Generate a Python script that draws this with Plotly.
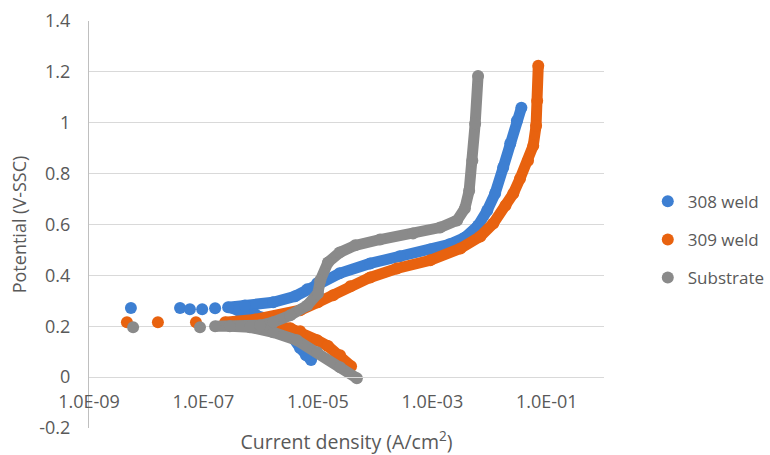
import plotly.graph_objects as go

# ---- data (current density A/cm2, potential V vs SSC) ----
series_names = ["308 weld", "309 weld", "Substrate"]
colors = ["#3D7FD2", "#E8620F", "#8A8A8A"]

# 308 weld
w308_iso_i = [5.4e-9, 3.9e-8, 5.8e-8, 9.5e-8, 1.6e-7]
w308_iso_E = [0.272, 0.272, 0.267, 0.267, 0.271]
w308_i = [7.6e-6, 6.2e-6, 4.9e-6, 3.7e-6, 2.7e-6, 1.6e-6, 8.0e-7, 4.0e-7, 2.7e-7,
          5.3e-7, 1.65e-6, 4.0e-6, 6.5e-6, 9.7e-6, 2.4e-5, 8.2e-5, 2.7e-4, 9.2e-4,
          2.0e-3, 3.7e-3, 6.3e-3, 9.1e-3, 1.25e-2, 1.73e-2, 2.3e-2, 3.0e-2, 3.6e-2]
w308_E = [0.067, 0.086, 0.114, 0.153, 0.188, 0.224, 0.247, 0.263, 0.275,
          0.282, 0.294, 0.318, 0.345, 0.369, 0.408, 0.447, 0.475, 0.502,
          0.522, 0.549, 0.596, 0.655, 0.722, 0.824, 0.918, 1.008, 1.059]

# 309 weld
w309_iso_i = [4.6e-9, 1.6e-8, 7.4e-8]
w309_iso_E = [0.216, 0.216, 0.216]
w309_i = [3.8e-5, 2.44e-5, 1.5e-5, 9.7e-6, 4.9e-6, 3.3e-6, 1.8e-6, 6.5e-7, 2.4e-7,
          8.0e-7, 2.2e-6, 4.9e-6, 1.0e-5, 1.85e-5, 3.7e-5, 8.2e-5, 2.4e-4, 9.2e-4,
          3.1e-3, 6.9e-3, 1.16e-2, 1.9e-2, 2.6e-2, 3.4e-2, 4.7e-2, 5.8e-2, 6.5e-2,
          6.8e-2, 7.1e-2]
w309_E = [0.043, 0.086, 0.122, 0.145, 0.180, 0.192, 0.200, 0.208, 0.216,
          0.227, 0.243, 0.263, 0.294, 0.322, 0.357, 0.392, 0.427, 0.459,
          0.506, 0.553, 0.604, 0.675, 0.722, 0.780, 0.851, 0.910, 0.988,
          1.086, 1.224]

# Substrate
sub_iso_i = [5.9e-9, 8.7e-8]
sub_iso_E = [0.196, 0.196]
sub_i = [4.8e-5, 2.44e-5, 9.7e-6, 4.3e-6, 1.65e-6, 6.5e-7, 2.9e-7, 1.6e-7,
         9.8e-7, 1.65e-6, 3.3e-6, 6.5e-6, 1.0e-5, 1.1e-5, 1.5e-5, 2.4e-5, 4.5e-5,
         1.22e-4, 4.6e-4, 1.37e-3, 2.7e-3, 3.7e-3, 4.4e-3, 5.0e-3, 5.6e-3, 6.3e-3]
sub_E = [-0.004, 0.039, 0.098, 0.145, 0.176, 0.196, 0.200, 0.200,
         0.204, 0.216, 0.243, 0.282, 0.329, 0.380, 0.451, 0.490, 0.518,
         0.541, 0.565, 0.588, 0.616, 0.663, 0.733, 0.851, 0.996, 1.184]

x_tickvals = [1e-9, 1e-7, 1e-5, 1e-3, 1e-1]
x_ticktext = ["1.0E-09", "1.0E-07", "1.0E-05", "1.0E-03", "1.0E-01"]
y_tickvals = [-0.2, 0, 0.2, 0.4, 0.6, 0.8, 1, 1.2, 1.4]
y_ticktext = ["-0.2", "0", "0.2", "0.4", "0.6", "0.8", "1", "1.2", "1.4"]

FONT = "Open Sans"
TXT = "#595959"

fig = go.Figure()
curves = [(w308_i, w308_E, w308_iso_i, w308_iso_E),
          (w309_i, w309_E, w309_iso_i, w309_iso_E),
          (sub_i, sub_E, sub_iso_i, sub_iso_E)]
for name, col, (ci, cE, ii, iE) in zip(series_names, colors, curves):
    fig.add_trace(go.Scatter(x=ci, y=cE, mode="lines+markers", name=name,
                             legendgroup=name, showlegend=False,
                             line=dict(color=col, width=11),
                             marker=dict(color=col, size=12), hoverinfo="skip"))
    fig.add_trace(go.Scatter(x=ii, y=iE, mode="markers", name=name,
                             legendgroup=name, showlegend=True,
                             marker=dict(color=col, size=12)))

fig.update_layout(
    width=770, height=455,
    margin=dict(l=89, r=166, t=21, b=27, autoexpand=False),
    paper_bgcolor="white", plot_bgcolor="white",
    font=dict(family=FONT, color=TXT, size=18),
    legend=dict(x=1.085, xanchor="left", y=0.6, yanchor="top",
                font=dict(size=17, color=TXT, family=FONT),
                tracegroupgap=13, itemsizing="constant", bgcolor="rgba(0,0,0,0)"),
    xaxis=dict(type="log", range=[-9, 0], tickvals=x_tickvals, ticktext=x_ticktext,
               showgrid=False, showline=True, linecolor="#d9d9d9", linewidth=1,
               zeroline=False, anchor="free", position=0.125, ticks="",
               ticklabelstandoff=8, tickfont=dict(size=18, color=TXT),
               title=dict(text="Current density (A/cm<sup>2</sup>)",
                          font=dict(size=19.5, color=TXT), standoff=32),
               automargin=False),
    yaxis=dict(range=[-0.2, 1.4], tickvals=y_tickvals, ticktext=y_ticktext,
               showgrid=True, gridcolor="#d9d9d9", gridwidth=1,
               showline=True, linecolor="#bfbfbf", linewidth=1, zeroline=False,
               ticks="", ticklabelstandoff=14, tickfont=dict(size=18, color=TXT),
               title=dict(text="Potential (V-SSC)", font=dict(size=18, color=TXT),
                          standoff=7),
               automargin=False),
)

fig.write_html("out.html")
